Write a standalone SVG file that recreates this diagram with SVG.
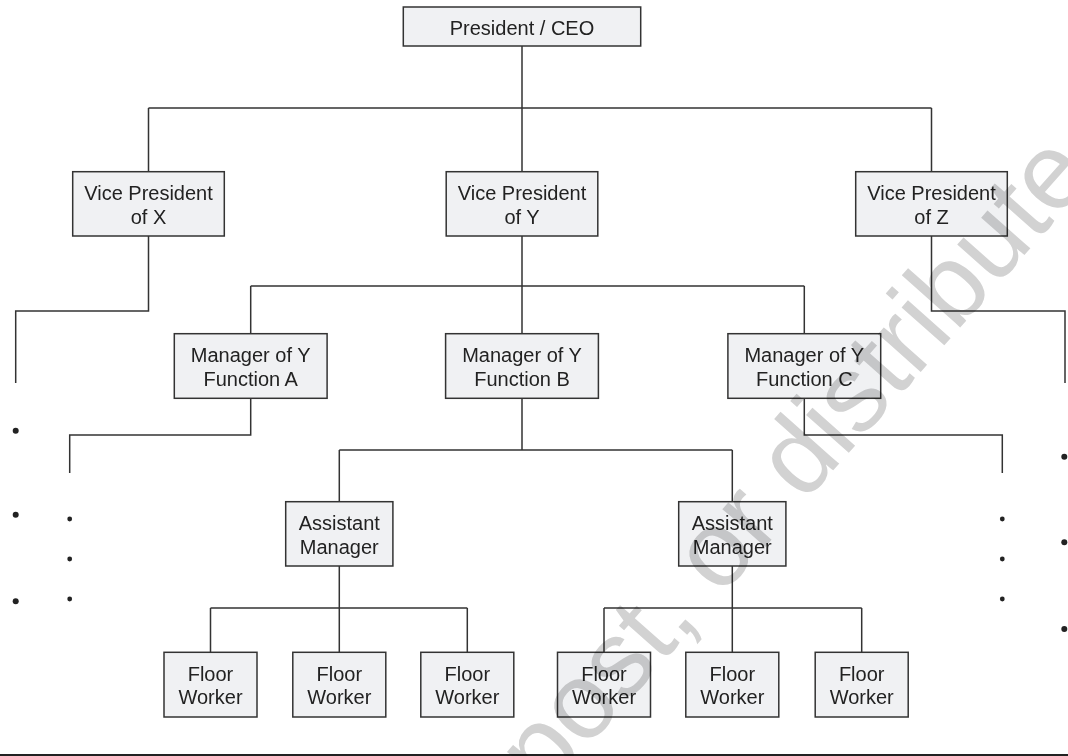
<svg xmlns="http://www.w3.org/2000/svg" width="1068" height="756" viewBox="0 0 1068 756">
<style>
.box{fill:#f0f1f3;stroke:#333;stroke-width:1.5}
.t{font-family:"Liberation Sans",Arial,sans-serif;font-size:20px;fill:#222;text-anchor:middle}
.ln{fill:none;stroke:#333;stroke-width:1.5}
.bd{fill:#222}
.sd{fill:#222}
.wm{font-family:"Liberation Sans",Arial,sans-serif;font-size:108px;fill:#d2d2d2;mix-blend-mode:multiply}
</style>
<rect width="1068" height="756" fill="#fff"/>
<g id="connectors">
<path class="ln" d="M522 46V108M148.5 108H931.5M148.5 108V172M522 108V172M931.5 108V172"/>
<path class="ln" d="M148.5 236V311H15.7V383"/>
<path class="ln" d="M931.5 236V311H1065V383"/>
<path class="ln" d="M522 236V286M250.7 286H804.3M250.7 286V334M522 286V334M804.3 286V334"/>
<path class="ln" d="M250.7 398V435H69.7V473"/>
<path class="ln" d="M804.3 398V435H1002.3V473"/>
<path class="ln" d="M522 398V450M339.3 450H732.3M339.3 450V501.7M732.3 450V501.7"/>
<path class="ln" d="M339.3 566V608M210.5 608H467.3M210.5 608V652M339.3 608V652M467.3 608V652"/>
<path class="ln" d="M732.3 566V608M604 608H861.7M604 608V652M732.3 608V652M861.7 608V652"/>
</g>
<g id="dots">
<circle class="bd" cx="15.7" cy="430.7" r="3"/>
<circle class="bd" cx="15.7" cy="514.7" r="3"/>
<circle class="bd" cx="15.7" cy="601.3" r="3"/>
<circle class="sd" cx="69.7" cy="519" r="2.4"/>
<circle class="sd" cx="69.7" cy="559" r="2.4"/>
<circle class="sd" cx="69.7" cy="599" r="2.4"/>
<circle class="sd" cx="1002.3" cy="519" r="2.4"/>
<circle class="sd" cx="1002.3" cy="559" r="2.4"/>
<circle class="sd" cx="1002.3" cy="599" r="2.4"/>
<circle class="bd" cx="1064.3" cy="456.7" r="3"/>
<circle class="bd" cx="1064.3" cy="542.3" r="3"/>
<circle class="bd" cx="1064.3" cy="629" r="3"/>
</g>
<g id="ceo"><rect class="box" x="403.3" y="7" width="237.4" height="39"/><text class="t" x="522" y="35">President / CEO</text></g>
<g id="vpx"><rect class="box" x="72.7" y="171.7" width="151.6" height="64.3"/><text class="t" x="148.5" y="200">Vice President</text><text class="t" x="148.5" y="223.5">of X</text></g>
<g id="vpy"><rect class="box" x="446.2" y="171.7" width="151.6" height="64.3"/><text class="t" x="522" y="200">Vice President</text><text class="t" x="522" y="223.5">of Y</text></g>
<g id="vpz"><rect class="box" x="855.7" y="171.7" width="151.6" height="64.3"/><text class="t" x="931.5" y="200">Vice President</text><text class="t" x="931.5" y="223.5">of Z</text></g>
<g id="mga"><rect class="box" x="174.3" y="333.7" width="152.8" height="64.6"/><text class="t" x="250.7" y="362">Manager of Y</text><text class="t" x="250.7" y="385.5">Function A</text></g>
<g id="mgb"><rect class="box" x="445.6" y="333.7" width="152.8" height="64.6"/><text class="t" x="522" y="362">Manager of Y</text><text class="t" x="522" y="385.5">Function B</text></g>
<g id="mgc"><rect class="box" x="727.9" y="333.7" width="152.8" height="64.6"/><text class="t" x="804.3" y="362">Manager of Y</text><text class="t" x="804.3" y="385.5">Function C</text></g>
<g id="asm1"><rect class="box" x="285.7" y="501.7" width="107.2" height="64.3"/><text class="t" x="339.3" y="530">Assistant</text><text class="t" x="339.3" y="553.5">Manager</text></g>
<g id="asm2"><rect class="box" x="678.7" y="501.7" width="107.2" height="64.3"/><text class="t" x="732.3" y="530">Assistant</text><text class="t" x="732.3" y="553.5">Manager</text></g>
<g id="fw1"><rect class="box" x="164" y="652.3" width="93" height="64.7"/><text class="t" x="210.5" y="680.5">Floor</text><text class="t" x="210.5" y="704">Worker</text></g>
<g id="fw2"><rect class="box" x="292.8" y="652.3" width="93" height="64.7"/><text class="t" x="339.3" y="680.5">Floor</text><text class="t" x="339.3" y="704">Worker</text></g>
<g id="fw3"><rect class="box" x="420.8" y="652.3" width="93" height="64.7"/><text class="t" x="467.3" y="680.5">Floor</text><text class="t" x="467.3" y="704">Worker</text></g>
<g id="fw4"><rect class="box" x="557.5" y="652.3" width="93" height="64.7"/><text class="t" x="604" y="680.5">Floor</text><text class="t" x="604" y="704">Worker</text></g>
<g id="fw5"><rect class="box" x="685.8" y="652.3" width="93" height="64.7"/><text class="t" x="732.3" y="680.5">Floor</text><text class="t" x="732.3" y="704">Worker</text></g>
<g id="fw6"><rect class="box" x="815.2" y="652.3" width="93" height="64.7"/><text class="t" x="861.7" y="680.5">Floor</text><text class="t" x="861.7" y="704">Worker</text></g>
<line x1="0" y1="755" x2="1068" y2="755" stroke="#222" stroke-width="2"/>
<text class="wm" transform="translate(545,795) rotate(-48.4)">post, or distribute</text>
</svg>
